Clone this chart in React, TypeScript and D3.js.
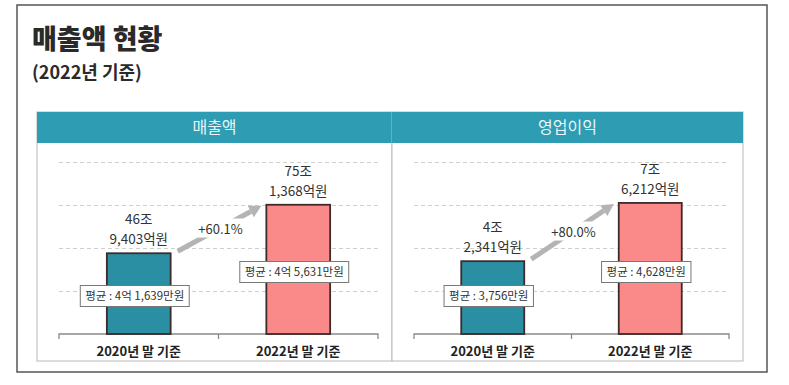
import React, { useRef, useEffect } from "react";
import * as d3 from "d3";

const categories = ["2020년 말 기준", "2022년 말 기준"];
const panelTitles = ["매출액", "영업이익"];
// 단위: 조원
const revenueValues = [46.9403, 75.1368];
const profitValues = [4.2341, 7.6212];
const revenueLabels = [["46조", "9,403억원"], ["75조", "1,368억원"]];
const profitLabels = [["4조", "2,341억원"], ["7조", "6,212억원"]];
const revenueAvg = ["평균 : 4억 1,639만원", "평균 : 4억 5,631만원"];
const profitAvg = ["평균 : 3,756만원", "평균 : 4,628만원"];
const growthLabels = ["+60.1%", "+80.0%"];
const revenueTicks = [25, 50, 75, 100];
const profitTicks = [2.5, 5, 7.5, 10];

const W = 789;
const H = 385;
const FONT = "'Noto Sans CJK KR', 'Noto Sans', sans-serif";
const barColors = ["#2b8fa4", "#fa8a8a"];

const App: React.FC = () => {
    const svgRef = useRef<SVGSVGElement | null>(null);

    useEffect(() => {
        const svg = d3.select(svgRef.current);
        svg.selectAll("*").remove();

        svg.append("rect").attr("width", W).attr("height", H).attr("fill", "#fff");

        // outer frame
        svg.append("rect")
            .attr("x", 17).attr("y", 5).attr("width", 750).attr("height", 367)
            .attr("fill", "none").attr("stroke", "#555").attr("stroke-width", 1.5);

        svg.append("text")
            .attr("x", 32).attr("y", 49)
            .attr("font-size", 27).attr("font-weight", 900)
            .attr("fill", "#2a2a2a").attr("font-family", FONT)
            .text("매출액 현황");
        svg.append("text")
            .attr("x", 32).attr("y", 79)
            .attr("font-size", 18).attr("font-weight", 700)
            .attr("fill", "#2a2a2a").attr("font-family", FONT)
            .text("(2022년 기준)");

        const panels = [
            { left: 37, right: 392, values: revenueValues, labels: revenueLabels, avg: revenueAvg, ticks: revenueTicks, max: 100 },
            { left: 392, right: 743, values: profitValues, labels: profitLabels, avg: profitAvg, ticks: profitTicks, max: 10 },
        ];
        const headerTop = 112;
        const headerH = 31;
        const panelBottom = 361;
        const axisY = 334;
        const avgBoxY = [296, 272];

        panels.forEach((p, pi) => {
            const g = svg.append("g");
            g.append("rect")
                .attr("x", p.left).attr("y", headerTop)
                .attr("width", p.right - p.left).attr("height", panelBottom - headerTop)
                .attr("fill", "#fff").attr("stroke", "#b8b8b8").attr("stroke-width", 1);
            g.append("rect")
                .attr("x", p.left).attr("y", headerTop)
                .attr("width", p.right - p.left).attr("height", headerH)
                .attr("fill", "#2e9cb2");
            g.append("text")
                .attr("x", (p.left + p.right) / 2).attr("y", headerTop + headerH / 2 + 5.5)
                .attr("text-anchor", "middle").attr("font-size", 16)
                .attr("fill", "#eaf6f9").attr("font-family", FONT)
                .text(panelTitles[pi]);

            const x = d3.scaleBand<string>()
                .domain(categories)
                .range([p.left + 22, p.right - 14])
                .paddingInner(0.6).paddingOuter(0.3);
            const y = d3.scaleLinear().domain([0, p.max]).range([axisY, 162]);

            g.selectAll(".grid")
                .data(p.ticks)
                .enter().append("line")
                .attr("x1", p.left + 22).attr("x2", p.right - 14)
                .attr("y1", (d) => Math.round(y(d)) + 0.5).attr("y2", (d) => Math.round(y(d)) + 0.5)
                .attr("stroke", "#cfcfcf").attr("stroke-dasharray", "4,3");

            // axis
            const [a0, a1] = x.range();
            g.append("path")
                .attr("d", `M${a0},${axisY + 5}V${axisY}H${a1}V${axisY + 5}M${(a0 + a1) / 2},${axisY}V${axisY + 5}`)
                .attr("fill", "none").attr("stroke", "#8a8a8a").attr("stroke-width", 1.3);

            g.selectAll(".cat")
                .data(categories)
                .enter().append("text")
                .attr("x", (d) => (x(d) as number) + x.bandwidth() / 2)
                .attr("y", axisY + 22)
                .attr("text-anchor", "middle").attr("font-size", 13).attr("font-weight", 700)
                .attr("fill", "#222").attr("font-family", FONT)
                .text((d) => d);

            // growth arrow
            const xs = (x(categories[0]) as number) + x.bandwidth() + 7;
            const ys = y(p.values[0]) - 2;
            const xe = (x(categories[1]) as number) - 5;
            const ye = y(p.values[1]) + 1;
            const ang = Math.atan2(ye - ys, xe - xs);
            const headLen = 12;
            const headW = 6.5;
            const bx = xe - headLen * Math.cos(ang);
            const by = ye - headLen * Math.sin(ang);
            g.append("line")
                .attr("x1", xs).attr("y1", ys).attr("x2", bx).attr("y2", by)
                .attr("stroke", "#b4b4b4").attr("stroke-width", 5);
            g.append("path")
                .attr("d", `M${xe},${ye}L${bx - headW * Math.sin(ang)},${by + headW * Math.cos(ang)}L${bx + headW * Math.sin(ang)},${by - headW * Math.cos(ang)}Z`)
                .attr("fill", "#b4b4b4");
            const mx = (xs + xe) / 2;
            const my = (ys + ye) / 2;
            const gl = g.append("text")
                .attr("x", mx + 1).attr("y", my + 5)
                .attr("text-anchor", "middle").attr("font-size", 13)
                .attr("fill", "#333").attr("font-family", FONT)
                .text(growthLabels[pi]);
            const gb = (gl.node() as SVGTextElement).getBBox();
            g.insert("rect", () => gl.node() as SVGTextElement)
                .attr("x", gb.x - 1).attr("y", gb.y).attr("width", gb.width + 2).attr("height", gb.height)
                .attr("fill", "#fff");

            categories.forEach((c, i) => {
                const bx0 = x(c) as number;
                const cx = bx0 + x.bandwidth() / 2;
                g.append("rect")
                    .attr("x", bx0).attr("y", y(p.values[i]))
                    .attr("width", x.bandwidth()).attr("height", axisY - y(p.values[i]))
                    .attr("fill", barColors[i]).attr("stroke", "#3e2a2a").attr("stroke-width", 1.8);

                p.labels[i].forEach((t, li) => {
                    g.append("text")
                        .attr("x", cx).attr("y", y(p.values[i]) - 29 + li * 20)
                        .attr("text-anchor", "middle").attr("font-size", 13.5)
                        .attr("fill", "#333").attr("font-family", FONT)
                        .text(t);
                });

                const at = g.append("text")
                    .attr("x", cx - 4).attr("y", avgBoxY[i] + 4)
                    .attr("text-anchor", "middle").attr("font-size", 11.5)
                    .attr("fill", "#333").attr("font-family", FONT)
                    .text(p.avg[i]);
                const bb = (at.node() as SVGTextElement).getBBox();
                g.insert("rect", () => at.node() as SVGTextElement)
                    .attr("x", bb.x - 5).attr("y", avgBoxY[i] - 10.5)
                    .attr("width", bb.width + 10).attr("height", 21)
                    .attr("fill", "#fff").attr("stroke", "#777").attr("stroke-width", 1);
            });
        });

        return () => {
            svg.selectAll("*").remove();
        };
    }, []);

    return (
        <svg
            ref={svgRef}
            width={W}
            height={H}
            style={{ position: "absolute", left: 0, top: 0 }}
        ></svg>
    );
};

export default App;
